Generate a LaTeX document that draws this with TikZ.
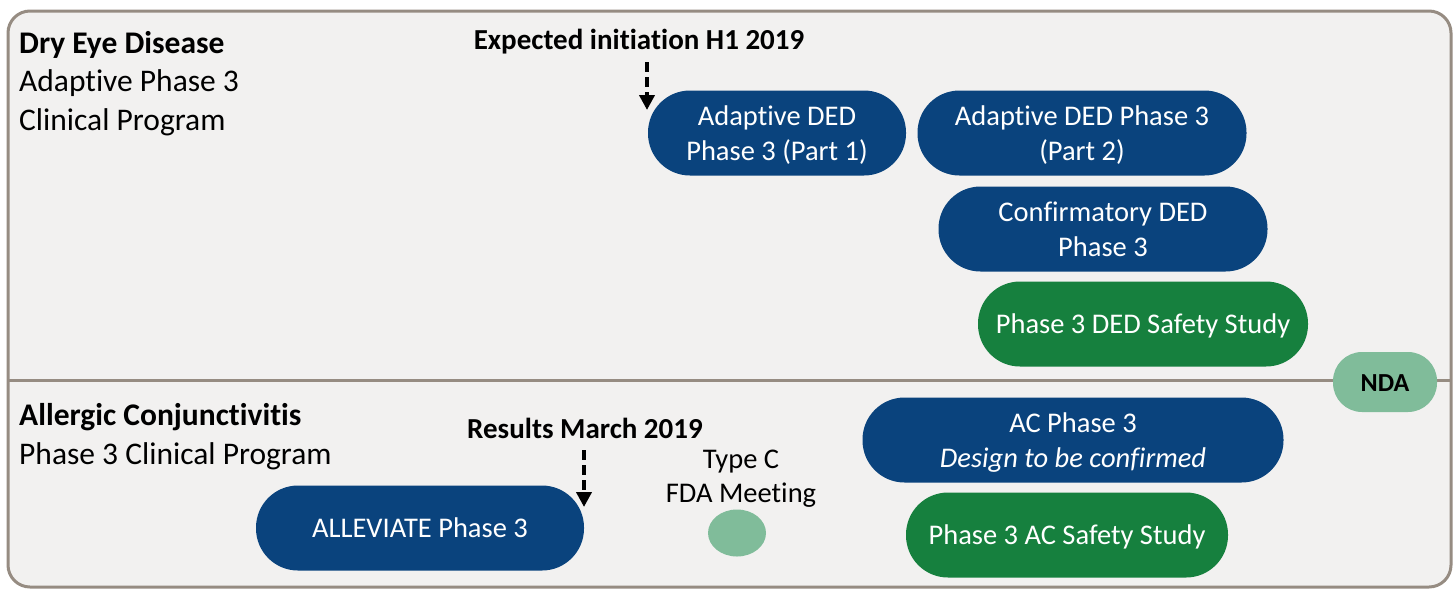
\documentclass[tikz,border=0pt]{standalone}
\usepackage{fontspec}
\setmainfont{Carlito}[Ligatures=NoCommon]
\usetikzlibrary{shapes.geometric,arrows.meta}
\definecolor{frame}{RGB}{150,140,130}
\definecolor{bg}{RGB}{242,241,240}
\definecolor{dblue}{RGB}{10,67,125}
\definecolor{dgreen}{RGB}{22,128,62}
\definecolor{lgreen}{RGB}{128,188,154}
\newcommand\pl[1]{\rule{0pt}{0.7em}\smash{#1}}
\tikzset{
  pill/.style={rectangle, rounded corners=42pt, minimum height=85pt, inner sep=0pt, align=center, text=white, font=\fontsize{28.5}{35}\selectfont},
  bluepill/.style={pill, fill=dblue},
  greenpill/.style={pill, fill=dgreen},
  lbl/.style={anchor=west, inner sep=0pt, font=\fontsize{31.5}{38}\selectfont},
  hint/.style={inner sep=0pt, font=\bfseries\fontsize{29}{34}\selectfont},
  darr/.style={line width=4pt, dash pattern=on 10pt off 5pt, -{Triangle[length=15pt,width=15pt]}},
}
\begin{document}
\begin{tikzpicture}[x=1pt,y=-1pt]
\useasboundingbox (0,0) rectangle (1455,590);
\draw[frame, line width=3pt, fill=bg, rounded corners=22pt] (8,11) rectangle (1451,587);
\draw[frame, line width=3pt] (8,380) -- (1451,380);

\node[lbl, font=\bfseries\fontsize{31.5}{38}\selectfont] (ded) at (19,45) {Dry Eye Disease};
\node[lbl] (ded2) at (19,83) {Adaptive Phase 3};
\node[lbl] (ded3) at (19,122) {Clinical Program};
\node[lbl, font=\bfseries\fontsize{31.5}{38}\selectfont] (ac) at (19,417.5) {Allergic Conjunctivitis};
\node[lbl] (ac2) at (19,456.5) {Phase 3 Clinical Program};

\node[hint] (exp) at (639,42) {Expected initiation H1 2019};
\node[hint] (res) at (585,428) {Results March 2019};
\node[inner sep=0pt, align=center, font=\fontsize{28.5}{34}\selectfont] (typec) at (741,479) {Type C\\FDA Meeting};

\node[bluepill, minimum width=258pt] (p1) at (777,133) {\pl{Adaptive DED}\\\pl{Phase 3 (Part 1)}};
\node[bluepill, minimum width=329pt] (p2) at (1082,133) {\pl{Adaptive DED Phase 3}\\\pl{(Part 2)}};
\node[bluepill, minimum width=329pt] (conf) at (1103,229) {\pl{Confirmatory DED}\\\pl{Phase 3}};
\node[greenpill, minimum width=330pt] (dsafe) at (1143,324) {\pl{Phase 3 DED Safety Study}};
\node[pill, fill=lgreen, text=black, minimum width=104pt, minimum height=60pt, rounded corners=29pt, font=\bfseries\fontsize{26}{30}\selectfont] (nda) at (1385,382) {\pl{NDA}};
\node[bluepill, minimum width=421pt] (acp) at (1073,440) {\pl{AC Phase 3}\\\pl{\textit{Design to be confirmed}}};
\node[greenpill, minimum width=322pt] (asafe) at (1067,535) {\pl{Phase 3 AC Safety Study}};
\node[bluepill, minimum width=328pt] (allev) at (420,528) {\pl{ALLEVIATE Phase 3}};
\node[ellipse, fill=lgreen, minimum width=58pt, minimum height=47pt, inner sep=0pt] (meet) at (737,533) {};

\coordinate (a1s) at (647,62);
\coordinate (a1e) at (647,110);
\coordinate (a2s) at (584,450);
\coordinate (a2e) at (584,507);
\draw[darr] (a1s) -- (a1e);
\draw[darr] (a2s) -- (a2e);
\end{tikzpicture}
\end{document}
